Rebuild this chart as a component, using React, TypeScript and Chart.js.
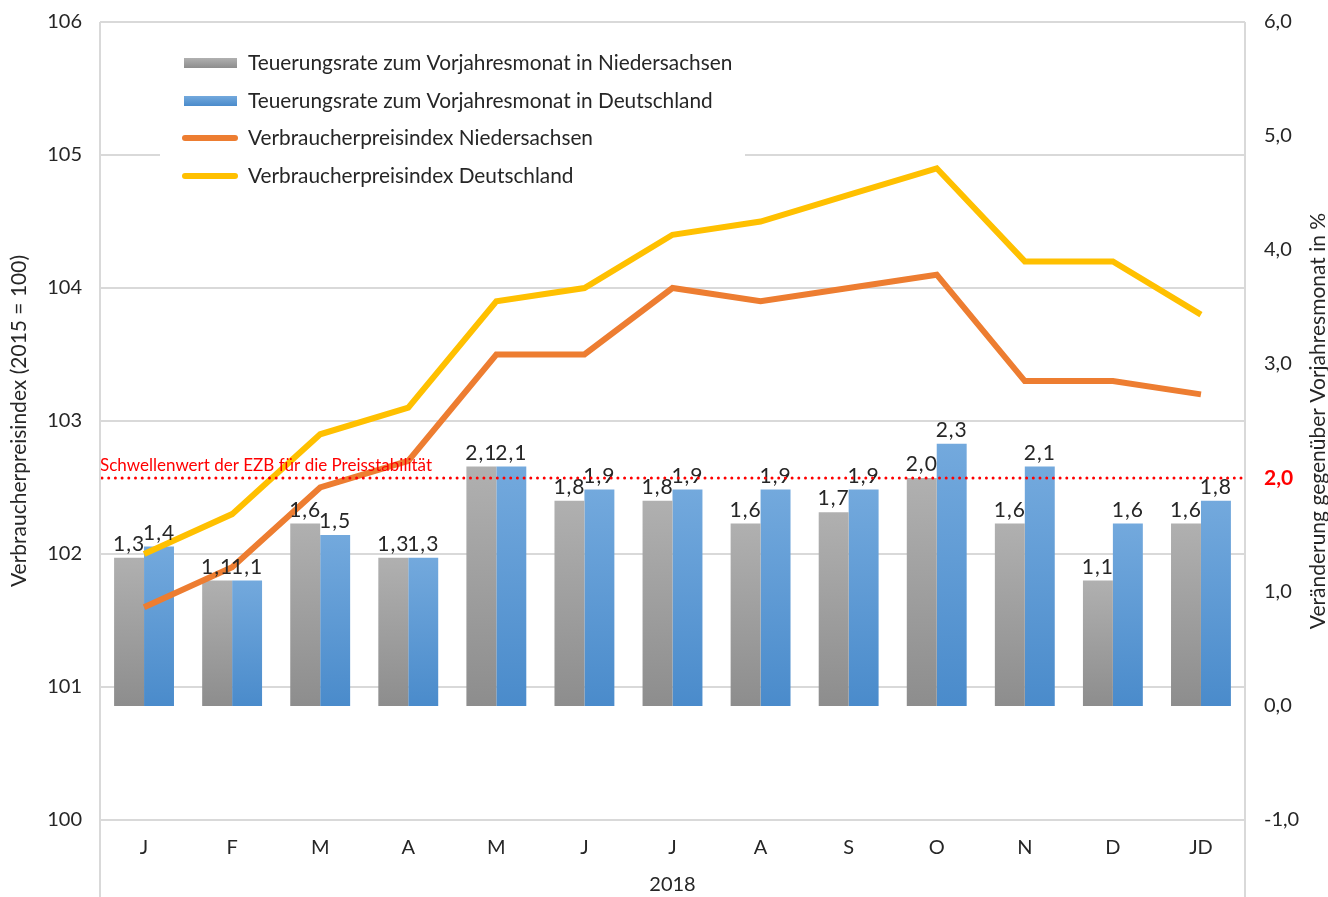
import React, { useEffect, useRef } from "react";
import { Chart, registerables } from "chart.js";

Chart.register(...registerables);

const categories = ["J", "F", "M", "A", "M", "J", "J", "A", "S", "O", "N", "D", "JD"];
const rateNds = [1.3, 1.1, 1.6, 1.3, 2.1, 1.8, 1.8, 1.6, 1.7, 2.0, 1.6, 1.1, 1.6];
const rateDe = [1.4, 1.1, 1.5, 1.3, 2.1, 1.9, 1.9, 1.9, 1.9, 2.3, 2.1, 1.6, 1.8];
const vpiNds = [101.6, 101.9, 102.5, 102.7, 103.5, 103.5, 104.0, 103.9, 104.0, 104.1, 103.3, 103.3, 103.2];
const vpiDe = [102.0, 102.3, 102.9, 103.1, 103.9, 104.0, 104.4, 104.5, 104.7, 104.9, 104.2, 104.2, 103.8];
const threshold = 2.0;
const seriesNames = [
  "Teuerungsrate zum Vorjahresmonat in Niedersachsen",
  "Teuerungsrate zum Vorjahresmonat in Deutschland",
  "Verbraucherpreisindex Niedersachsen",
  "Verbraucherpreisindex Deutschland",
];
const yearLabel = "2018";
const leftTitle = "Verbraucherpreisindex (2015 = 100)";
const rightTitle = "Veränderung gegenüber Vorjahresmonat in %";
const thresholdLabel = "Schwellenwert der EZB für die Preisstabilität";

const FONT = "Lato";
const TEXT = "#262626";
const GRID = "#d9d9d9";
const GRAY = ["#b0b0b0", "#8d8d8d"];
const BLUE = ["#73a9dd", "#4a8bcb"];
const ORANGE = "#ed7d31";
const YELLOW = "#ffc000";

const fmt = (v: number) => v.toFixed(1).replace(".", ",");

function barGradient(colors: string[]) {
  return (ctx: any) => {
    const chart = ctx.chart;
    if (!chart.chartArea || ctx.type !== "data") return colors[1];
    const s = chart.scales.y1;
    const top = s.getPixelForValue(ctx.raw);
    const bot = s.getPixelForValue(0);
    const g = chart.ctx.createLinearGradient(0, top, 0, bot);
    g.addColorStop(0, colors[0]);
    g.addColorStop(1, colors[1]);
    return g;
  };
}

const overlayPlugin = {
  id: "overlay",
  afterDatasetsDraw(chart: any) {
    const { ctx, chartArea } = chart;
    const y1 = chart.scales.y1;
    ctx.save();
    // data labels
    ctx.font = `21px ${FONT}`;
    ctx.fillStyle = TEXT;
    ctx.textAlign = "center";
    ctx.textBaseline = "bottom";
    try {
      (ctx as any).letterSpacing = "1px";
    } catch (e) {}
    [0, 1].forEach((di) => {
      const meta = chart.getDatasetMeta(di);
      meta.data.forEach((el: any, i: number) => {
        const v = chart.data.datasets[di].data[i];
        ctx.fillText(fmt(v), el.x, el.y - 3);
      });
    });
    try {
      (ctx as any).letterSpacing = "0px";
    } catch (e) {}
    // threshold dotted line
    const ty = y1.getPixelForValue(threshold);
    ctx.strokeStyle = "#ff0000";
    ctx.lineWidth = 3;
    ctx.lineCap = "round";
    ctx.setLineDash([0, 6.7]);
    ctx.beginPath();
    ctx.moveTo(chartArea.left + 2, ty);
    ctx.lineTo(chartArea.right, ty);
    ctx.stroke();
    ctx.setLineDash([]);
    ctx.font = `17px ${FONT}`;
    ctx.fillStyle = "#ff0000";
    ctx.textAlign = "left";
    ctx.textBaseline = "middle";
    ctx.fillText(thresholdLabel, chartArea.left, ty - 12);
    ctx.restore();
  },
  afterDraw(chart: any) {
    const { ctx, chartArea, height } = chart;
    ctx.save();
    // vertical border lines
    ctx.strokeStyle = GRID;
    ctx.lineWidth = 2;
    ctx.beginPath();
    ctx.moveTo(chartArea.left, chartArea.top);
    ctx.lineTo(chartArea.left, height);
    ctx.moveTo(chartArea.right, chartArea.top);
    ctx.lineTo(chartArea.right, height);
    ctx.stroke();
    // right axis title
    ctx.translate(1318, (chartArea.top + chartArea.bottom) / 2);
    ctx.rotate(-Math.PI / 2);
    ctx.font = `21px ${FONT}`;
    ctx.fillStyle = TEXT;
    ctx.textAlign = "center";
    ctx.textBaseline = "middle";
    ctx.fillText(rightTitle, 0, 0);
    ctx.restore();

    // legend
    ctx.save();
    ctx.fillStyle = "#ffffff";
    ctx.fillRect(160, 36, 585, 158);
    const rows = [63, 101, 138, 176];
    ctx.font = `20.8px ${FONT}`;
    ctx.textBaseline = "middle";
    ctx.textAlign = "left";
    rows.forEach((ry, i) => {
      if (i < 2) {
        const c = i === 0 ? GRAY : BLUE;
        const g = ctx.createLinearGradient(0, ry - 5, 0, ry + 5);
        g.addColorStop(0, c[0]);
        g.addColorStop(1, c[1]);
        ctx.fillStyle = g;
        ctx.fillRect(184, ry - 5, 53, 10);
      } else {
        ctx.strokeStyle = i === 2 ? ORANGE : YELLOW;
        ctx.lineWidth = 6;
        ctx.lineCap = "round";
        ctx.beginPath();
        ctx.moveTo(185, ry);
        ctx.lineTo(235, ry);
        ctx.stroke();
      }
      ctx.fillStyle = TEXT;
      ctx.fillText(seriesNames[i], 248, ry);
    });
    ctx.restore();
  },
};

export default function App() {
  const ref = useRef<HTMLCanvasElement>(null);
  useEffect(() => {
    if (!ref.current) return;
    const chart = new Chart(ref.current, {
      type: "bar",
      data: {
        labels: categories,
        datasets: [
          {
            type: "bar",
            label: seriesNames[0],
            data: rateNds,
            yAxisID: "y1",
            backgroundColor: barGradient(GRAY),
            categoryPercentage: 0.68,
            barPercentage: 1,
            order: 2,
          },
          {
            type: "bar",
            label: seriesNames[1],
            data: rateDe,
            yAxisID: "y1",
            backgroundColor: barGradient(BLUE),
            categoryPercentage: 0.68,
            barPercentage: 1,
            order: 2,
          },
          {
            type: "line",
            label: seriesNames[2],
            data: vpiNds,
            yAxisID: "y",
            borderColor: ORANGE,
            borderWidth: 6,
            pointRadius: 0,
            tension: 0,
            order: 1,
          } as any,
          {
            type: "line",
            label: seriesNames[3],
            data: vpiDe,
            yAxisID: "y",
            borderColor: YELLOW,
            borderWidth: 6,
            pointRadius: 0,
            tension: 0,
            order: 0,
          } as any,
        ],
      },
      options: {
        responsive: false,
        animation: false,
        layout: { padding: { top: 22, left: 0, right: 0, bottom: 0 } },
        plugins: { legend: { display: false }, tooltip: { enabled: false } },
        scales: {
          x: {
            grid: { display: false },
            border: { display: false },
            ticks: { color: TEXT, font: { family: FONT, size: 20 }, padding: 8 },
            title: {
              display: true,
              text: yearLabel,
              color: TEXT,
              font: { family: FONT, size: 20 },
              padding: { top: 0, bottom: 0 },
            },
            afterFit: (s: any) => {
              s.height = 77;
              s.paddingLeft = 0;
              s.paddingRight = 0;
            },
          },
          y: {
            position: "left",
            min: 100,
            max: 106,
            ticks: { stepSize: 1, color: TEXT, font: { family: FONT, size: 20 }, padding: 18 },
            grid: { color: GRID, lineWidth: 2, drawTicks: false },
            border: { display: false },
            title: {
              display: true,
              text: leftTitle,
              color: TEXT,
              font: { family: FONT, size: 21 },
              padding: { top: 7, bottom: 0 },
            },
            afterFit: (s: any) => {
              s.width = 100;
              s.paddingTop = 0;
              s.paddingBottom = 0;
            },
          },
          y1: {
            position: "right",
            min: -1,
            max: 6,
            ticks: {
              stepSize: 1,
              padding: 19,
              callback: (v: any) => fmt(Number(v)),
              color: (c: any) => (c.tick && c.tick.value === 2 ? "#ff0000" : TEXT),
              font: (c: any) => ({
                family: FONT,
                size: c.tick && c.tick.value === 2 ? 21 : 20,
                weight: c.tick && c.tick.value === 2 ? "bold" : "normal",
              }),
            },
            grid: { display: false, drawTicks: false },
            border: { display: false },
            afterFit: (s: any) => {
              s.width = 83;
              s.paddingTop = 0;
              s.paddingBottom = 0;
            },
          },
        },
      },
      plugins: [overlayPlugin],
    });
    return () => chart.destroy();
  }, []);
  return (
    <div style={{ position: "absolute", left: 0, top: 0, width: 1328, height: 897, background: "#fff" }}>
      <canvas ref={ref} width={1328} height={897} style={{ width: 1328, height: 897 }} />
    </div>
  );
}
